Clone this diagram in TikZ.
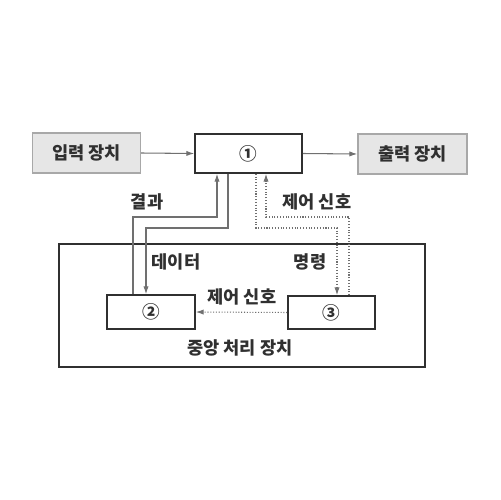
\documentclass[tikz,border=0pt]{standalone}
\usepackage{fontspec}
\setmainfont{Noto Sans CJK KR}
\usepackage{tikz}
\usepackage{xcolor}
\usetikzlibrary{arrows.meta}

\definecolor{boxgray}{HTML}{E6E6E6}
\definecolor{edgegray}{HTML}{A8A8A8}
\definecolor{linegray}{HTML}{707070}
\definecolor{inkgray}{HTML}{303030}

\tikzset{
    devbox/.style={draw=edgegray, fill=boxgray, line width=0.8pt, minimum width=2.16cm, minimum height=0.8cm},
    unitbox/.style={draw=inkgray, fill=white, line width=0.9pt},
    lbl/.style={text=inkgray, font=\fontsize{10}{12}\selectfont\bfseries},
    arr/.style={draw=linegray, line width=0.6pt, -{Latex[length=4.5pt,width=3pt]}},
    sig/.style={arr, densely dotted}
}

\begin{document}
\begin{tikzpicture}[x=0.02cm,y=-0.02cm]
    \useasboundingbox (0,0) rectangle (500,500);

    % outer unit
    \node[unitbox, minimum width=7.32cm, minimum height=2.46cm] (cpu) at (242,305.5) {};

    \node[devbox, lbl] (in) at (86.5,153) {입력 장치};
    \node[unitbox, lbl, minimum width=2.14cm, minimum height=0.78cm] (c1) at (248.5,153.5) {①};
    \node[devbox, lbl, minimum width=2.18cm] (out) at (412.5,154) {출력 장치};

    \node[unitbox, lbl, minimum width=1.76cm, minimum height=0.68cm] (c2) at (151,312) {②};
    \node[unitbox, lbl, minimum width=1.74cm, minimum height=0.66cm] (c3) at (331.5,312.5) {③};

    \node[lbl] (cpulbl) at (240,348) {중앙 처리 장치};

    \draw[arr] (in.east) -- (c1.west);
    \draw[arr] (c1.east) -- (out.west);

    % bends
    \coordinate (k1) at (133,217);
    \coordinate (k2) at (217,217);
    \coordinate (d1) at (228,228);
    \coordinate (d2) at (146,228);
    \coordinate (m1) at (256,228);
    \coordinate (m2) at (337,228);
    \coordinate (s1) at (349,217);
    \coordinate (s2) at (266,217);

    \draw[arr] (c2.north -| k1) -- (k1) -- (k2) -- (k2 |- c1.south);
    \draw[arr] (c1.south -| d1) -- (d1) -- (d2) -- (d2 |- c2.north);
    \draw[sig] (c1.south -| m1) -- (m1) -- (m2) -- (m2 |- c3.north);
    \draw[sig] (c3.north -| s1) -- (s1) -- (s2) -- (s2 |- c1.south);
    \draw[sig] (c3.west) -- (c2.east);

    \node[lbl] (l1) at (147,202) {결과};
    \node[lbl] (l2) at (317,202) {제어 신호};
    \node[lbl] (l3) at (176,262) {데이터};
    \node[lbl] (l4) at (310,262) {명령};
    \node[lbl] (l5) at (242,297) {제어 신호};

\end{tikzpicture}
\end{document}
